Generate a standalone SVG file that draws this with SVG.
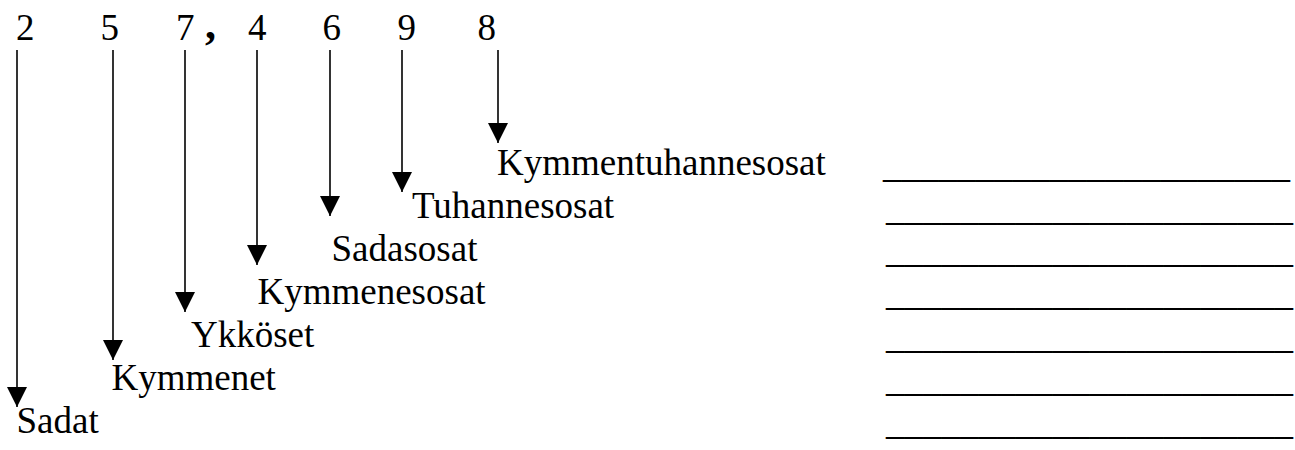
<svg xmlns="http://www.w3.org/2000/svg" width="1295" height="450" viewBox="0 0 1295 450">
  <style>
    .t { font-size: 37px; fill: #000; }
    .comma { font-size: 44px; font-weight: bold; fill: #000; }
    .arrow { stroke: #000; stroke-width: 1.6; fill: none; marker-end: url(#head); }
  </style>
  <defs>
    <marker id="head" viewBox="0 0 20 20" refX="20" refY="10" markerWidth="20" markerHeight="20" markerUnits="userSpaceOnUse" orient="auto">
      <path d="M0,0 L20,10 L0,20 Z" fill="#000"/>
    </marker>
  </defs>
  <rect width="1295" height="450" fill="#fff"/>

  <!-- the number 257,4698 -->
  <g id="number">
    <text class="t" font-family="Liberation Serif" x="16" y="40">2</text>
    <text class="t" font-family="Liberation Serif" x="100.5" y="40">5</text>
    <text class="t" font-family="Liberation Serif" x="176" y="40">7</text>
    <text class="comma" font-family="Liberation Serif" x="205" y="39">,</text>
    <text class="t" font-family="Liberation Serif" x="248" y="40">4</text>
    <text class="t" font-family="Liberation Serif" x="322.5" y="40">6</text>
    <text class="t" font-family="Liberation Serif" x="397.5" y="40">9</text>
    <text class="t" font-family="Liberation Serif" x="477.5" y="40">8</text>
  </g>

  <!-- place-value names -->
  <g id="sadat"><text class="t" font-family="Liberation Serif" x="16.5" y="433">Sadat</text></g>
  <g id="kymmenet"><text class="t" font-family="Liberation Serif" x="111.5" y="390">Kymmenet</text></g>
  <g id="ykkoset"><text class="t" font-family="Liberation Serif" x="191" y="347">Ykköset</text></g>
  <g id="kymmenesosat"><text class="t" font-family="Liberation Serif" x="257.5" y="304">Kymmenesosat</text></g>
  <g id="sadasosat"><text class="t" font-family="Liberation Serif" x="331.5" y="261">Sadasosat</text></g>
  <g id="tuhannesosat"><text class="t" font-family="Liberation Serif" x="412" y="218">Tuhannesosat</text></g>
  <g id="kymmentuhannesosat"><text class="t" font-family="Liberation Serif" x="497" y="175">Kymmentuhannesosat</text></g>

  <!-- arrows from each digit down to its name -->
  <g id="connectors">
    <path class="arrow" d="M17,50 V407"/>
    <path class="arrow" d="M113,50 V360"/>
    <path class="arrow" d="M185,50 V312"/>
    <path class="arrow" d="M257,50 V265"/>
    <path class="arrow" d="M330,50 V216"/>
    <path class="arrow" d="M402,50 V192"/>
    <path class="arrow" d="M498,50 V143"/>
  </g>

  <!-- answer lines -->
  <g id="answer-lines">
    <text class="t" font-family="Liberation Serif" x="883" y="177">______________________</text>
    <text class="t" font-family="Liberation Serif" x="886" y="219.5">______________________</text>
    <text class="t" font-family="Liberation Serif" x="886" y="262">______________________</text>
    <text class="t" font-family="Liberation Serif" x="886" y="304.5">______________________</text>
    <text class="t" font-family="Liberation Serif" x="886" y="347.5">______________________</text>
    <text class="t" font-family="Liberation Serif" x="886" y="390.5">______________________</text>
    <text class="t" font-family="Liberation Serif" x="886" y="433.5">______________________</text>
  </g>
</svg>
